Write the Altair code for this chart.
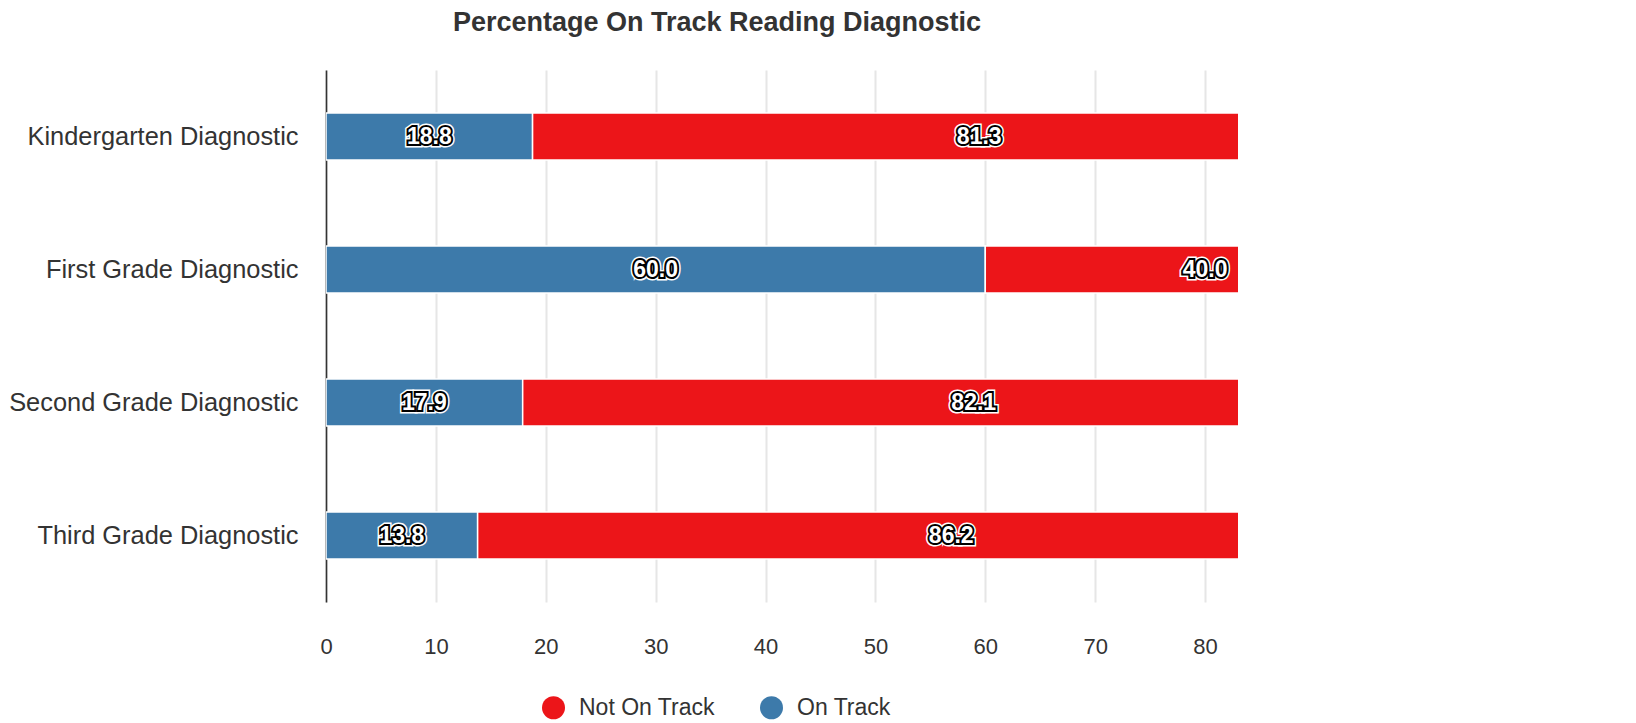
import altair as alt
import pandas as pd

categories = ["Kindergarten Diagnostic", "First Grade Diagnostic",
              "Second Grade Diagnostic", "Third Grade Diagnostic"]
on_track = [18.8, 60.0, 17.9, 13.8]
not_on_track = [81.3, 40.0, 82.1, 86.2]
series = ["Not On Track", "On Track"]
colors = ["#ec1519", "#3d7aaa"]
x_ticks = [0, 10, 20, 30, 40, 50, 60, 70, 80]

rows = []
for c, a, b in zip(categories, on_track, not_on_track):
    rows.append({"cat": c, "status": "On Track", "value": a, "ord": 0})
    rows.append({"cat": c, "status": "Not On Track", "value": b, "ord": 1})
df = pd.DataFrame(rows)

FONT = "Liberation Sans"

base = alt.Chart(df).transform_stack(
    stack="value", groupby=["cat"], as_=["x0", "x1"],
    sort=[alt.SortField("ord", order="ascending")]
).transform_calculate(mid="(datum.x0 + datum.x1) / 2")

yenc = alt.Y("cat:N", sort=categories, title=None,
             scale=alt.Scale(paddingInner=0.647, paddingOuter=0.3235),
             axis=alt.Axis(domain=True, domainColor="#333333", domainWidth=1.6,
                           ticks=False, tickSize=0, labelPadding=28,
                           labelFontSize=25.4, labelColor="#333333",
                           labelFont=FONT, labelLimit=0, grid=False))
xscale = alt.Scale(domain=[0, 83], nice=False, zero=True)

bars = base.mark_bar(stroke="white", strokeWidth=1.5, clip=True).encode(
    y=yenc,
    x=alt.X("x0:Q", scale=xscale, title=None,
            axis=alt.Axis(values=x_ticks, domain=False, ticks=False, tickSize=0,
                          labelPadding=34, labelFontSize=22, labelColor="#333333",
                          labelFont=FONT, labelFlush=False, grid=True,
                          gridColor="#e6e6e6", gridWidth=2)),
    x2="x1:Q",
    color=alt.Color("status:N",
                    scale=alt.Scale(domain=series, range=colors),
                    legend=alt.Legend(title=None, orient="none", legendX=216,
                                      legendY=626, direction="horizontal",
                                      symbolType="circle", symbolSize=529,
                                      symbolStrokeWidth=0, symbolOpacity=1,
                                      labelFontSize=23, labelFont=FONT,
                                      labelColor="#333333", labelOffset=14,
                                      columnPadding=45, padding=0)),
)

def txt(**kw):
    return base.mark_text(font=FONT, fontSize=23, fontWeight="bold",
                          align="center", baseline="middle", **kw).encode(
        y=alt.Y("cat:N", sort=categories),
        x=alt.X("mid:Q", scale=xscale),
        text=alt.Text("value:Q", format=".1f"),
    )

halo = txt(fill="white", stroke="white", strokeWidth=7)
border = txt(fill="black", stroke="black", strokeWidth=4)
inner = txt(fill="white")

chart = alt.layer(bars, halo, border, inner).properties(
    width=912, height=532,
    title=alt.TitleParams("Percentage On Track Reading Diagnostic",
                          font=FONT, fontSize=27, fontWeight="bold",
                          color="#333333", anchor="middle", frame="group",
                          baseline="alphabetic", offset=12, dx=-65),
    autosize=alt.AutoSizeParams(type="none"),
    padding={"left": 318, "top": 62, "right": 382, "bottom": 119},
).configure_view(stroke=None)

chart.save("out.html", embed_options={"renderer": "svg", "actions": False})
